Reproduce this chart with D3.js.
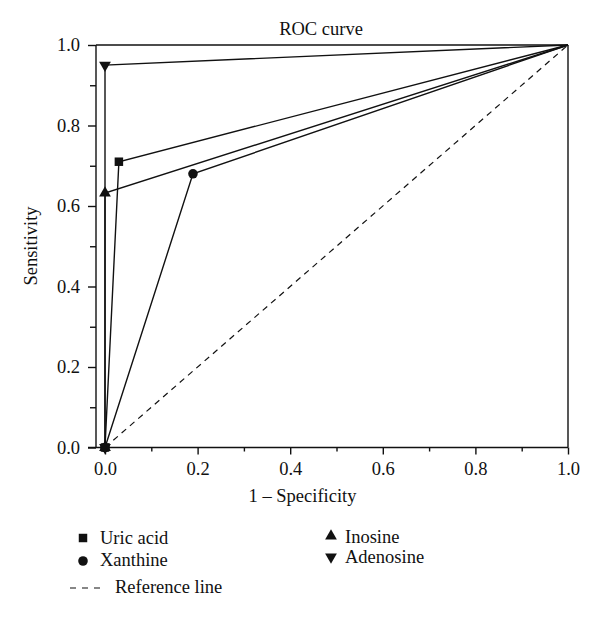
<!DOCTYPE html>
<html><head><meta charset="utf-8">
<script src="https://cdn.jsdelivr.net/npm/d3@7/dist/d3.min.js"></script>
<style>body{margin:0;background:#fff}svg{display:block}text{font-family:"Liberation Serif","DejaVu Serif",serif;fill:#111}</style>
</head><body><svg id="c" width="600" height="620"></svg>
<script>
const seriesNames = ["Uric acid", "Xanthine", "Inosine", "Adenosine"];
const seriesSymbols = ["square", "circle", "triangle", "triangleDown"];
const uricAcidX = [0, 0.03, 1];
const uricAcidY = [0, 0.71, 1];
const xanthineX = [0, 0.19, 1];
const xanthineY = [0, 0.68, 1];
const inosineX = [0, 0, 1];
const inosineY = [0, 0.632, 1];
const adenosineX = [0, 0, 1];
const adenosineY = [0, 0.95, 1];
const referenceX = [0, 1];
const referenceY = [0, 1];
const majorTicks = [0, 0.2, 0.4, 0.6, 0.8, 1.0];
const minorTicks = [0.1, 0.3, 0.5, 0.7, 0.9];

const FS = 18.5;
const svg = d3.select("#c");
const x = d3.scaleLinear().domain([0, 1]).range([105, 568]);
const y = d3.scaleLinear().domain([0, 1]).range([447.5, 45]);
const leftX = 96;

// frame: top and right
svg.append("line").attr("x1", leftX).attr("x2", x(1)).attr("y1", y(1)).attr("y2", y(1)).attr("stroke", "#111").attr("stroke-width", 1.4);
svg.append("line").attr("x1", x(1)).attr("x2", x(1)).attr("y1", y(1)).attr("y2", y(0)).attr("stroke", "#111").attr("stroke-width", 1.4);

// x axis
const fmt = d3.format(".1f");
const gx = svg.append("g").attr("transform", `translate(0,${y(0)})`)
  .call(d3.axisBottom(x).tickValues(majorTicks).tickFormat(fmt).tickSize(7).tickPadding(7));
gx.select(".domain").remove();
svg.append("line").attr("x1", leftX - 8).attr("x2", x(1)).attr("y1", y(0)).attr("y2", y(0)).attr("stroke", "#111").attr("stroke-width", 1.4);
const gxm = svg.append("g").attr("transform", `translate(0,${y(0)})`)
  .call(d3.axisBottom(x).tickValues(minorTicks).tickFormat("").tickSize(4));
gxm.select(".domain").remove();

// y axis
const gy = svg.append("g").attr("transform", `translate(${leftX},0)`)
  .call(d3.axisLeft(y).tickValues(majorTicks).tickFormat(fmt).tickSize(8).tickPadding(8));
gy.select(".domain").attr("d", `M0,${y(1)}V${y(0)}`);
const gym = svg.append("g").attr("transform", `translate(${leftX},0)`)
  .call(d3.axisLeft(y).tickValues(minorTicks).tickFormat("").tickSize(6));
gym.select(".domain").remove();

svg.selectAll(".tick line, .domain").attr("stroke", "#111").attr("stroke-width", 1.4);
svg.selectAll(".tick text").attr("font-size", FS).attr("font-family", "Liberation Serif").attr("fill", "#111");

// titles
svg.append("text").attr("x", 321).attr("y", 35).attr("text-anchor", "middle").attr("font-size", FS).text("ROC curve");
svg.append("text").attr("x", 302.5).attr("y", 502).attr("text-anchor", "middle").attr("font-size", FS).text("1 \u2013 Specificity");
svg.append("text").attr("transform", "translate(37,246) rotate(-90)").attr("text-anchor", "middle").attr("font-size", FS).text("Sensitivity");

const line = d3.line().x(d => x(d[0])).y(d => y(d[1]));
// reference line
svg.append("path").datum(d3.zip(referenceX, referenceY)).attr("d", line)
  .attr("fill", "none").attr("stroke", "#111").attr("stroke-width", 1.2).attr("stroke-dasharray", "6,5");

const seriesX = [uricAcidX, xanthineX, inosineX, adenosineX];
const seriesY = [uricAcidY, xanthineY, inosineY, adenosineY];
const symMap = {
  square: d3.symbol().type(d3.symbolSquare).size(72),
  circle: d3.symbol().type(d3.symbolCircle).size(72),
  triangle: d3.symbol().type(d3.symbolTriangle).size(60),
  triangleDown: d3.symbol().type(d3.symbolTriangle).size(60)
};
function drawSym(g, name, cx, cy) {
  const rot = name === "triangleDown" ? 180 : 0;
  g.append("path").attr("d", symMap[name]()).attr("fill", "#111")
    .attr("transform", `translate(${cx},${cy}) rotate(${rot})`);
}
seriesNames.forEach((n, i) => {
  const pts = d3.zip(seriesX[i], seriesY[i]);
  svg.append("path").datum(pts).attr("d", line).attr("fill", "none").attr("stroke", "#111").attr("stroke-width", 1.4);
});
seriesNames.forEach((n, i) => {
  const pts = d3.zip(seriesX[i], seriesY[i]);
  pts.slice(0, 2).forEach(p => drawSym(svg, seriesSymbols[i], x(p[0]), y(p[1])));
});

// legend
const legendPos = [[83, 538, 100, 544], [83, 561, 100, 566], [331, 536, 345, 543], [331, 557, 345, 563]];
seriesNames.forEach((n, i) => {
  const [sx, sy, tx, ty] = legendPos[i];
  drawSym(svg, seriesSymbols[i], sx, sy);
  svg.append("text").attr("x", tx).attr("y", ty).attr("font-size", FS).text(n);
});
svg.append("line").attr("x1", 70).attr("x2", 104).attr("y1", 588).attr("y2", 588)
  .attr("stroke", "#111").attr("stroke-width", 1.2).attr("stroke-dasharray", "6,6");
svg.append("text").attr("x", 115).attr("y", 593).attr("font-size", FS).text("Reference line");
</script></body></html>
